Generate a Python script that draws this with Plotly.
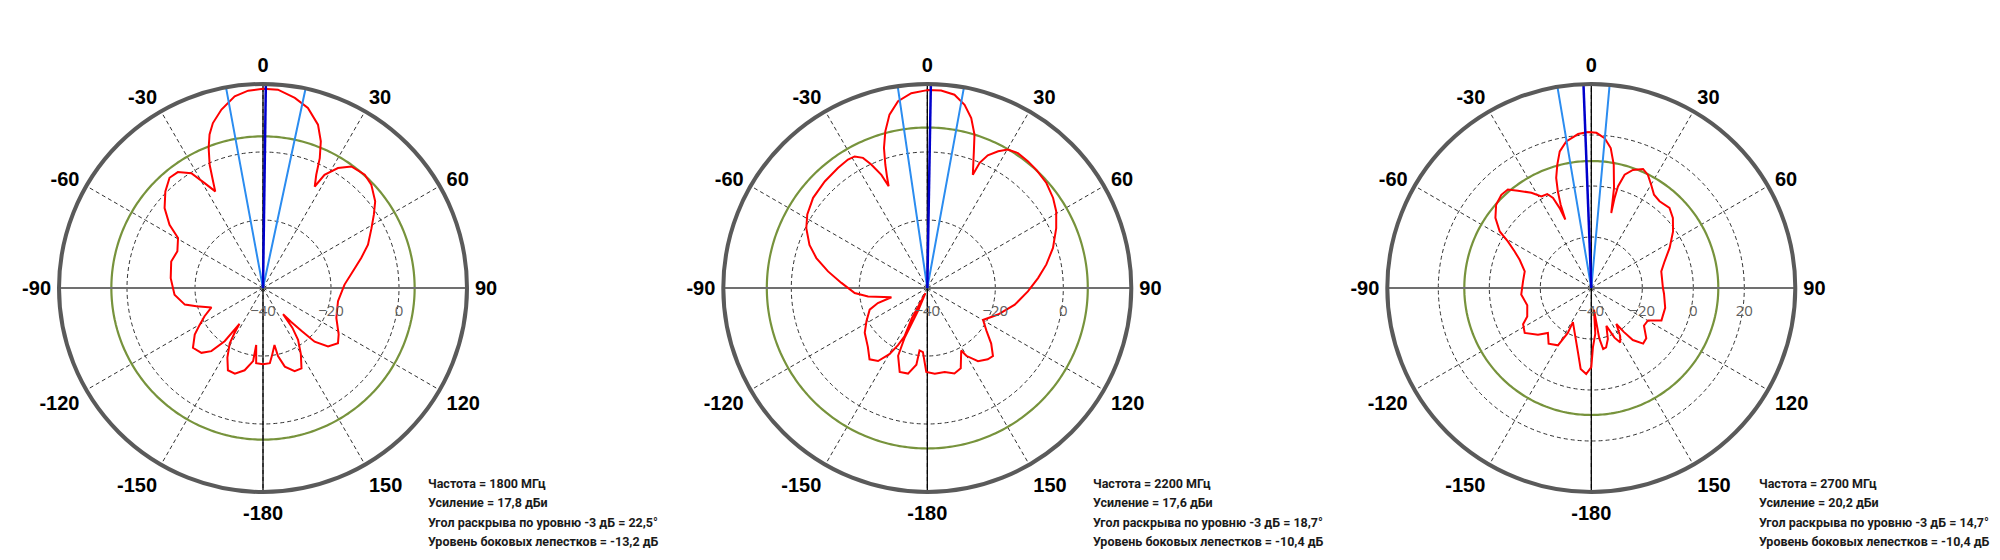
import numpy as np
import plotly.graph_objects as go

# ---------------- data ----------------
freqs = [1800, 2200, 2700]          # MHz
gains = [17.8, 17.6, 20.2]          # dBi
hpbw = [22.5, 18.7, 14.7]           # deg, -3 dB beamwidth
sll = [-13.2, -10.4, -10.4]         # dB, side lobe level
boresight = [0.8, 1.0, -2.2]        # deg, beam direction
r_ranges = [[-40, 20], [-40, 20], [-40, 40]]
r_ticks = [[-40, -20, 0], [-40, -20, 0], [-40, -20, 0, 20]]

angle_ticks = [0, 30, 60, 90, 120, 150, 180, 210, 240, 270, 300, 330]
angle_labels = ["0", "30", "60", "90", "120", "150", "-180", "-150", "-120", "-90", "-60", "-30"]

theta_1800 = [0, 4.3, 9.5, 14, 18.6, 21.5, 23.6, 25.2, 27, 28.5, 32, 36, 41.9, 46.4, 52.3, 56.5,
              61.2, 67.6, 73, 79.5, 87.6, 100, 112.2, 121.5, 126.4, 131.9, 136.1, 138.1, 140.3,
              142.5, 143.5, 145.9, 150.2, 154.4, 159.2, 164.5, 167.6, 168.6, 172.6, 174.8, 180,
              -174.8, -173.2, -172.3, -167.4, -161.8, -156.9, -152.9, -149, -147.6, -146.7,
              -144.2, -140.7, -136.5, -130.5, -124.3, -120.1, -115.8, -110.6, -105.4, -102,
              -94.4, -83.9, -73.9, -66.8, -59.5, -55.9, -50.9, -45.3, -40.3, -36.3, -32, -29.1,
              -26.3, -25.1, -23.4, -21.2, -19.2, -16.9, -13.1, -8.4, -4.3, 0]
r_1800 = [18.6, 18.5, 16.7, 14.6, 10.7, 6.4, 1.7, -3.2, -6.5, -2.1, 1.6, 4.2, 4.8, 4.0, 1.7, -0.9,
          -3.6, -6.6, -9.8, -13.1, -16, -17.6, -16.7, -13.9, -12.6, -14.3, -18.1, -23.1, -27.0,
          -30.3, -25.5, -21.6, -17.6, -13.8, -13.8, -16, -19.5, -22.9, -19.8, -17.8, -17.6,
          -17.8, -23.1, -18.3, -15.2, -13.5, -13.7, -17, -21, -24.5, -27.4,
          -20.7, -16.0, -13.7, -12.9, -15.7, -18.5, -20.9, -23.8, -19.7, -16.5,
          -13.9, -12.7, -11.9, -12.6, -11.0, -6.8, -2.7, 0.4, 2.5, 2.3, -0.2, -4.7,
          -8.3, -5.4, -0.5, 4.2, 7.8, 10.7, 13.9, 17.0, 18.2, 18.6]

theta_2200 = [0, 4.0, 8.0, 11.5, 14.5, 17.1, 18.8, 21.9, 22.7, 24.5, 27.4, 30.2, 33.9, 38.4, 42.7,
              48.6, 54.4, 59.3, 65.1, 72.3, 78.8, 84.9, 91.9, 100.8, 110.6, 119.8, 125.9, 131,
              136, 139.7, 145.3, 150.1, 151.5, 157.4, 162.4, 168.3, 175, -179.3, -176.1, -172.9,
              -171.9, -167.3, -161.8, -156.7, -155.5, -158, -160, -153, -154.7, -152.9, -150.2,
              -146, -141, -134.7, -125.5, -118.7, -110.6, -106.9, -104.5, -98.1, -94, -86.6,
              -80.5, -74.9, -69.9, -63.7, -58.5, -51.7, -43.9, -36.7, -31.7, -28.9, -26.3, -24.4,
              -22.1, -20.8, -20, -18.8, -17.2, -15, -12.3, -8.9, -4.7, 0]
r_2200 = [18.2, 18.2, 17.4, 15.0, 11.6, 7.2, 2.5, -4.1, -0.1, 2.9, 5.3, 7.1, 7.8, 7.6, 7.3,
          6.7, 5.5, 4.1, 1.8, -1.2, -4.3, -7.3, -10.4, -13.8, -17.8, -21.1, -18.5, -15.1,
          -12.2, -12.5, -13.8, -17.0, -19.1, -14.4, -13.6, -14.8, -14.7, -15.3, -21.1, -21.5,
          -17.2, -14.2, -14.0, -18.3, -24, -33, -38.4, -30, -24.3, -21.1, -17.6,
          -14.1, -13.0, -15.4, -17.4, -19.6, -21.9, -24.8, -29.1, -22.4, -18.6, -14.7,
          -10.4, -6.2, -3.1, -0.3, 1.4, 2.8, 3.5, 4.0, 4.4, 4.2, 2.7, -0.1,
          -4.1, -8.0, -5.5, -1.7, 3.1, 7.7, 12.2, 15.6, 17.5, 18.2]

theta_2700 = [-1.2, 1.9, 5.1, 7.9, 10.3, 12.8, 14.9, 14.5, 14.7, 16.4, 19.4, 23.5, 26.6, 30.1,
              33.9, 38.2, 44.3, 49.3, 55.3, 62.9, 70, 76.7, 90, 94.5, 105, 114.8, 119.8, 125.6,
              132.4, 137, 141.4, 143.5, 145.2, 149, 152, 155, 158.3, 162, 166, 169, 171, 173,
              175, 178.4, 180, -176.6, -172.5, -168.4, -161.7, -151.7, -152.4, -149.8, -142.5,
              -136, -131.2, -124, -118, -114, -105, -95.4, -84.5, -76, -68.5, -64.4, -60.8,
              -58.3, -53.8, -48.8, -44, -40.3, -37, -32.2, -28.6, -25.1, -23, -21.6, -20.8,
              -20.2, -19.1, -17.7, -15.4, -13, -9.7, -4.9, -1.2]
r_2700 = [21.2, 20.9, 19.0, 15.4, 9.2, 0.2, -9.6, -3.5, 1.2, 6.3, 9.1, 10.9, 9.6, 6.8,
          4.1, 3.3, 3.9, 2.2, -1.0, -5.5, -9.4, -11.8, -11.9, -11.4, -10, -9.7, -14.4, -14.6,
          -10.8, -10.2, -13.9, -18.6, -22.8, -18, -15.8, -18.5, -24, -19, -16, -15.6, -20, -31.4,
          -22, -16.8, -9, -6.2, -8, -14.1, -20, -24.8, -20.1, -14, -12.5,
          -15.5, -12.2, -8.5, -9.7, -12.5, -14, -12.4, -13.1, -13.1, -9.8, -6.6, -2.5,
          2.2, 6.6, 9.6, 10.8, 10.6, 7.8, 4.1, 0.9, 0.7, -1.6, -6.3, -11.3,
          -5.2, 0.1, 5.3, 10.2, 15.0, 18.3, 20.6, 21.2]

thetas = [theta_1800, theta_2200, theta_2700]
rs = [r_1800, r_2200, r_2700]

# ---------------- layout geometry ----------------
W, H = 2000, 560
centers_x = [255, 919.3, 1583.3]
center_y = 280
radius = 204
text_x = [418, 1083, 1749]
text_y = [475, 494.5, 514, 533.5]

TICK_FONT = "Liberation Sans, Arial, sans-serif"
TEXT_FONT = "Roboto, Liberation Sans, sans-serif"

fig = go.Figure()
circle_theta = np.linspace(0, 360, 361)

def fmt(v):
    return f"{v:.1f}".replace(".", ",")

annotations = []
for i in range(3):
    sub = "polar" if i == 0 else f"polar{i+1}"
    rmin, rmax = r_ranges[i]
    lvl = gains[i] + sll[i]
    # side-lobe level circle
    fig.add_trace(go.Scatterpolar(r=[lvl] * len(circle_theta), theta=circle_theta, mode="lines",
                                  line=dict(color="#77933C", width=2.2), subplot=sub,
                                  showlegend=False, hoverinfo="skip"))
    # main axes
    fig.add_trace(go.Scatterpolar(r=[rmax, rmin, rmax], theta=[90, 90, 270], mode="lines",
                                  line=dict(color="#707070", width=2), subplot=sub,
                                  showlegend=False, hoverinfo="skip"))
    fig.add_trace(go.Scatterpolar(r=[rmax, rmin, rmax], theta=[0, 0, 180], mode="lines",
                                  line=dict(color="#000000", width=1.3), subplot=sub,
                                  showlegend=False, hoverinfo="skip"))
    # radiation pattern
    fig.add_trace(go.Scatterpolar(r=rs[i], theta=thetas[i], mode="lines",
                                  line=dict(color="#FF0000", width=2), subplot=sub,
                                  showlegend=False))
    # -3 dB beam edges
    b = boresight[i]
    fig.add_trace(go.Scatterpolar(r=[rmax, rmin, rmax],
                                  theta=[b - hpbw[i] / 2, b, b + hpbw[i] / 2], mode="lines",
                                  line=dict(color="#2B8CF0", width=2), subplot=sub,
                                  showlegend=False, hoverinfo="skip"))
    # beam direction
    fig.add_trace(go.Scatterpolar(r=[rmin, rmax], theta=[b, b], mode="lines",
                                  line=dict(color="#0000CC", width=2.5), subplot=sub,
                                  showlegend=False, hoverinfo="skip"))

    cx = centers_x[i]
    polar = dict(
        domain=dict(x=[(cx - radius) / W, (cx + radius) / W],
                    y=[(H - center_y - radius) / H, (H - center_y + radius) / H]),
        bgcolor="white",
        angularaxis=dict(rotation=90, direction="clockwise", tickmode="array",
                         tickvals=angle_ticks, ticktext=angle_labels,
                         tickfont=dict(family=TICK_FONT, size=20, color="black", weight="bold"),
                         showline=True, linecolor="#5A5A5A", linewidth=4,
                         showgrid=True, gridcolor="#333333", griddash="4px,3px", gridwidth=1,
                         ticks="outside", ticklen=2, tickcolor="rgba(0,0,0,0)"),
        radialaxis=dict(range=[rmin, rmax], tickmode="array", tickvals=r_ticks[i],
                        showline=False, showgrid=True, gridcolor="#333333",
                        griddash="4px,3px", gridwidth=1, angle=0, side="clockwise",
                        ticks="outside", ticklen=9, tickcolor="rgba(0,0,0,0)",
                        tickfont=dict(family="Open Sans, sans-serif", size=15,
                                      color="#606060")),
    )
    fig.update_layout(**{sub: polar})

    lines = [f"Частота = {freqs[i]} МГц",
             f"Усиление = {fmt(gains[i])} дБи",
             f"Угол раскрыва по уровню -3 дБ = {fmt(hpbw[i])}°",
             f"Уровень боковых лепестков = {fmt(sll[i])} дБ"]
    for j, t in enumerate(lines):
        annotations.append(dict(text=t, x=text_x[i] / W, y=1 - text_y[j] / H, xref="paper",
                                yref="paper", xanchor="left", yanchor="middle", showarrow=False,
                                font=dict(family=TEXT_FONT, size=12.5, color="#1a1a1a",
                                          weight="bold")))

fig.update_layout(width=W, height=H, margin=dict(l=0, r=0, t=0, b=0),
                  paper_bgcolor="white", plot_bgcolor="white", showlegend=False,
                  annotations=annotations)

fig.write_html("out.html")
